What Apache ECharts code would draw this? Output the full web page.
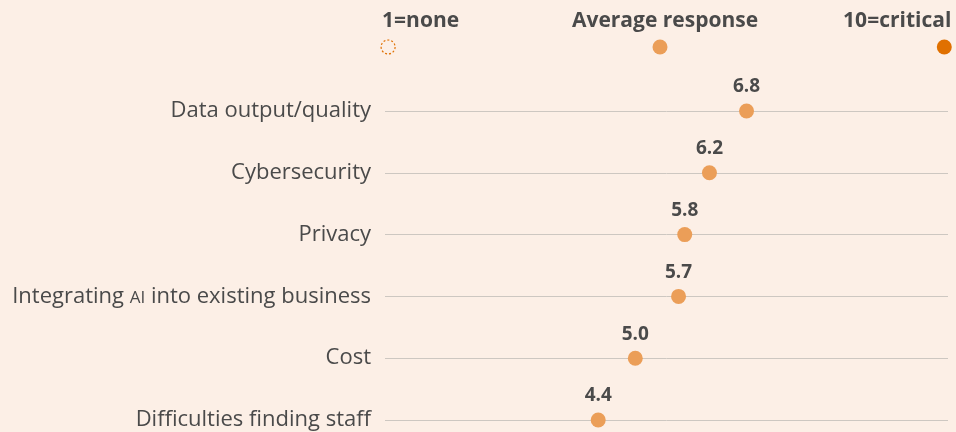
<!DOCTYPE html>
<html>
<head>
<meta charset="utf-8">
<script src="https://cdn.jsdelivr.net/npm/echarts@6/dist/echarts.min.js"></script>
<style>
  html, body { margin: 0; padding: 0; background: #fcefe6; }
  #chart { width: 956px; height: 432px; }
</style>
</head>
<body>
<div id="chart"></div>
<script>
// Concerns about AI, average response on a 1-10 scale
const categories = [
  'Data output/quality',
  'Cybersecurity',
  'Privacy',
  'Integrating AI into existing business',
  'Cost',
  'Difficulties finding staff'
];
const averages = [6.8, 6.2, 5.8, 5.7, 5.0, 4.4];

// header key: scale ends and the average marker
const keyLabels = ['1=none', 'Average response', '10=critical'];
const keyValues = [1, 5.4, 10];

const dotColor = '#eb9e58';
const darkDot = '#e07000';
const textColor = '#4a4a4a';
const font = '"Open Sans", Lato, sans-serif';

const chart = echarts.init(document.getElementById('chart'));

const xScale = { min: 0.95, max: 10.06 };

chart.setOption({
  backgroundColor: '#fcefe6',
  animation: false,
  grid: [
    { left: 385, right: 8, top: 111, bottom: 12 },
    { left: 385, right: 8, top: 47, height: 0 }
  ],
  xAxis: [
    { type: 'value', gridIndex: 0, ...xScale, show: false },
    { type: 'value', gridIndex: 1, ...xScale, show: false }
  ],
  yAxis: [
    {
      type: 'category',
      gridIndex: 0,
      data: categories,
      inverse: true,
      boundaryGap: false,
      axisLine: { show: false },
      axisTick: { show: false },
      splitLine: { show: true, lineStyle: { color: '#cdc7c1', width: 1 } },
      axisLabel: {
        margin: 14,
        color: textColor,
        fontFamily: font,
        fontSize: 22,
        formatter: v => v.includes('AI')
          ? v.split('AI').map(s => '{n|' + s + '}').join('{sc|AI}')
          : v,
        rich: {
          n: { fontFamily: font, fontSize: 22, color: textColor, verticalAlign: 'bottom' },
          sc: { fontFamily: font, fontSize: 17, color: textColor, verticalAlign: 'bottom', padding: [0, 0, 1, 0] }
        }
      }
    },
    { type: 'category', gridIndex: 1, data: ['key'], show: false, boundaryGap: false }
  ],
  series: [
    {
      type: 'scatter',
      xAxisIndex: 0,
      yAxisIndex: 0,
      symbolSize: 15,
      itemStyle: { color: dotColor, opacity: 1 },
      label: {
        show: true,
        position: 'top',
        distance: 7,
        color: textColor,
        fontFamily: font,
        fontWeight: 'bold',
        fontSize: 19,
        formatter: p => p.value[0].toFixed(1)
      },
      data: averages.map((v, i) => [v, categories[i]]),
      z: 5
    },
    {
      type: 'scatter',
      xAxisIndex: 1,
      yAxisIndex: 1,
      symbolSize: 15,
      itemStyle: { opacity: 1 },
      data: keyValues.map((v, i) => {
        const item = { value: [v, 'key'] };
        const lbl = {
          show: true,
          position: 'top',
          distance: 8,
          color: textColor,
          fontFamily: font,
          fontWeight: 'bold',
          fontSize: 21,
          formatter: keyLabels[i]
        };
        if (i === 0) {
          item.itemStyle = { color: 'transparent', borderColor: darkDot, borderWidth: 1.2, borderType: [2, 2], opacity: 1 };
          item.symbolSize = 14;
          item.label = { ...lbl, align: 'left', offset: [-6, 0] };
        } else if (i === 1) {
          item.itemStyle = { color: dotColor, opacity: 1 };
          item.label = { ...lbl, offset: [5, 0] };
        } else {
          item.itemStyle = { color: darkDot, opacity: 1 };
          item.label = { ...lbl, align: 'right', offset: [7, 0] };
        }
        return item;
      })
    }
  ]
});
</script>
</body>
</html>
